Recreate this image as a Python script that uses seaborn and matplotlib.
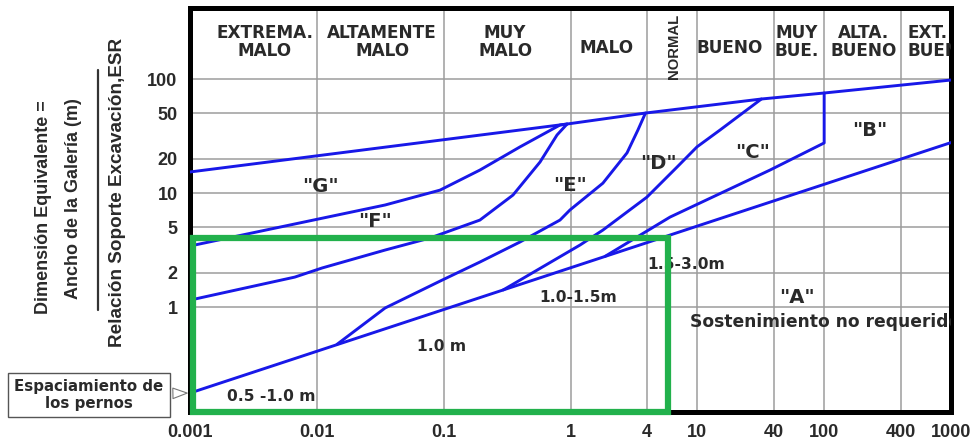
import matplotlib
matplotlib.use("Agg")
import matplotlib.pyplot as plt
from matplotlib.patches import Rectangle
from matplotlib.lines import Line2D
import pandas as pd
import seaborn as sns

# Q (rock mass quality) vs De/ESR
q_top = [0.001, 0.94, 3.9, 32, 100, 1000]
de_top = [15.3, 40.3, 50.3, 66.8, 75.4, 98]

q_gf = [0.001, 0.0345, 0.0935, 0.193, 0.40, 0.826, 0.94]
de_gf = [3.43, 7.85, 10.6, 15.9, 25.4, 39.5, 40.3]

q_fe = [0.001, 0.0067, 0.011, 0.0345, 0.078, 0.193, 0.352, 0.575, 0.783, 0.94]
de_fe = [1.15, 1.83, 2.2, 3.16, 4.03, 5.79, 9.6, 18.7, 32.3, 40.3]

q_ed = [0.0144, 0.0345, 0.097, 0.193, 0.40, 0.826, 0.99, 1.8, 2.79, 3.4, 3.9]
de_ed = [0.47, 0.98, 1.72, 2.48, 3.72, 5.79, 7.1, 12.2, 22.5, 35.7, 50.3]

q_dc = [0.294, 1.19, 1.8, 4.01, 6.92, 9.94, 15.1, 32]
de_dc = [1.41, 3.5, 4.73, 9.22, 16.9, 25.4, 35.7, 66.8]

q_cb = [1.87, 6.09, 37.4, 100, 100]
de_cb = [2.78, 6.15, 15.9, 27.5, 75.4]

q_ba = [0.001, 1000]
de_ba = [0.176, 27.7]

lines = {
    "top": (q_top, de_top),
    "G/F": (q_gf, de_gf),
    "F/E": (q_fe, de_fe),
    "E/D": (q_ed, de_ed),
    "D/C": (q_dc, de_dc),
    "C/B": (q_cb, de_cb),
    "B/A": (q_ba, de_ba),
}

# rock class header (columns between the vertical grid lines)
class_names = ["EXTREMA.\nMALO", "ALTAMENTE\nMALO", "MUY\nMALO", "MALO", "BUENO",
               "MUY\nBUE.", "ALTA.\nBUENO"]
class_q = [0.0039, 0.0327, 0.305, 1.94, 18.1, 61, 205]

regions = ['"G"', '"F"', '"E"', '"D"', '"C"', '"B"', '"A"']
region_q = [0.0106, 0.0288, 0.99, 4.9, 27.5, 230, 61]
region_de = [11.3, 5.57, 11.7, 18.3, 22.9, 35.7, 1.22]

spacing = ["0.5 -1.0 m", "1.0 m", "1.0-1.5m", "1.5-3.0m"]
spacing_q = [0.00436, 0.097, 1.15, 8.15]
spacing_de = [0.163, 0.446, 1.22, 2.34]

x_ticks = [0.001, 0.01, 0.1, 1, 4, 10, 40, 100, 400, 1000]
x_labels = ["0.001", "0.01", "0.1", "1", "4", "10", "40", "100", "400", "1000"]
y_ticks = [1, 2, 5, 10, 20, 50, 100]
y_labels = ["1", "2", "5", "10", "20", "50", "100"]

sns.set_style("white")
plt.rcParams["font.family"] = ["DejaVu Sans"]
plt.rcParams["font.weight"] = "bold"
arial = ["Liberation Sans", "DejaVu Sans"]

blue = "#1818e8"
green = "#22b14c"
txt = "#2a2a2a"

fig, ax = plt.subplots(figsize=(9.8, 4.41), dpi=100)
fig.subplots_adjust(left=0.1939, right=0.9704, bottom=0.0658, top=0.9819)

for name, (q, de) in lines.items():
    df = pd.DataFrame({"Q": q, "De": de})
    sns.lineplot(data=df, x="Q", y="De", sort=False, estimator=None,
                 color=blue, lw=2.1, ax=ax, zorder=3)

ax.set_xscale("log")
ax.set_yscale("log")
ax.set_xlim(0.001, 1000)
ax.set_ylim(0.12, 420)
ax.set_xticks(x_ticks)
ax.set_xticklabels(x_labels, family=arial, fontsize=13)
ax.set_yticks(y_ticks)
ax.set_yticklabels(y_labels, family=arial, fontsize=13)
ax.minorticks_off()
ax.tick_params(length=0, pad=9, labelcolor=txt)
ax.set_xlabel("")
ax.set_ylabel("")

# grid: horizontal lines only under the header row
for y in y_ticks:
    ax.axhline(y, color="#9c9c9c", lw=1.1, zorder=1)
for x in x_ticks[1:-1]:
    ax.axvline(x, color="#9c9c9c", lw=1.1, zorder=1)

for s in ax.spines.values():
    s.set_linewidth(3.6)
    s.set_color("black")

# header
for name, q in zip(class_names, class_q):
    ax.text(q, 213 if "\n" in name else 189, name, ha="center", va="center",
            fontsize=12.2, color=txt, linespacing=1.0)
ax.text(6.6, 194, "NORMAL", rotation=90, ha="center", va="center",
        fontsize=10.7, color=txt, family=arial)
ax.text(450, 213, "EXT.\nBUENO", ha="left", va="center", fontsize=12.2,
        color=txt, linespacing=1.0, clip_on=True)

for lab, q, de in zip(regions, region_q, region_de):
    ax.text(q, de, lab, ha="center", va="center", fontsize=14, color=txt)
ax.text(8.75, 0.738, "Sostenimiento no requerido", ha="left", va="center",
        fontsize=12.3, color=txt, clip_on=True)

for lab, q, de in zip(spacing, spacing_q, spacing_de):
    ax.text(q, de, lab, ha="center", va="center", fontsize=11.2, color=txt, zorder=4)

# green box around the low quality / small span zone
ax.add_patch(Rectangle((0.00105, 0.12), 5.9 - 0.00105, 4.03 - 0.12, fill=False,
                       ec=green, lw=4.5, zorder=6, clip_on=False))

ax.annotate("Espaciamiento de\nlos pernos", xy=(0.001, 0.176), xycoords="data",
            xytext=(89, 46), textcoords="figure pixels", ha="center", va="center",
            fontsize=10.8, color=txt, linespacing=1.15,
            bbox=dict(boxstyle="square,pad=0.4", fc="white", ec="#555", lw=1),
            arrowprops=dict(arrowstyle="wedge,tail_width=0.7,shrink_factor=0.5",
                            fc="white", ec="#777", lw=0.8),
            annotation_clip=False, zorder=7)

# y axis label written as a fraction
fig.text(44 / 980, 1 - 207 / 441, "Dimensión Equivalente =", rotation=90,
         ha="center", va="center", fontsize=13, color=txt, family=arial)
fig.text(73 / 980, 1 - 199 / 441, "Ancho de la Galería (m)", rotation=90,
         ha="center", va="center", fontsize=13, color=txt, family=arial)
fig.add_artist(Line2D([98 / 980, 98 / 980], [1 - 70 / 441, 1 - 310 / 441],
                      transform=fig.transFigure, color="#333", lw=1.6))
fig.text(118 / 980, 1 - 192 / 441, "Relación Soporte Excavación,ESR", rotation=90,
         ha="center", va="center", fontsize=13.6, color=txt, family=arial)

fig.savefig("out.png", dpi=100)
